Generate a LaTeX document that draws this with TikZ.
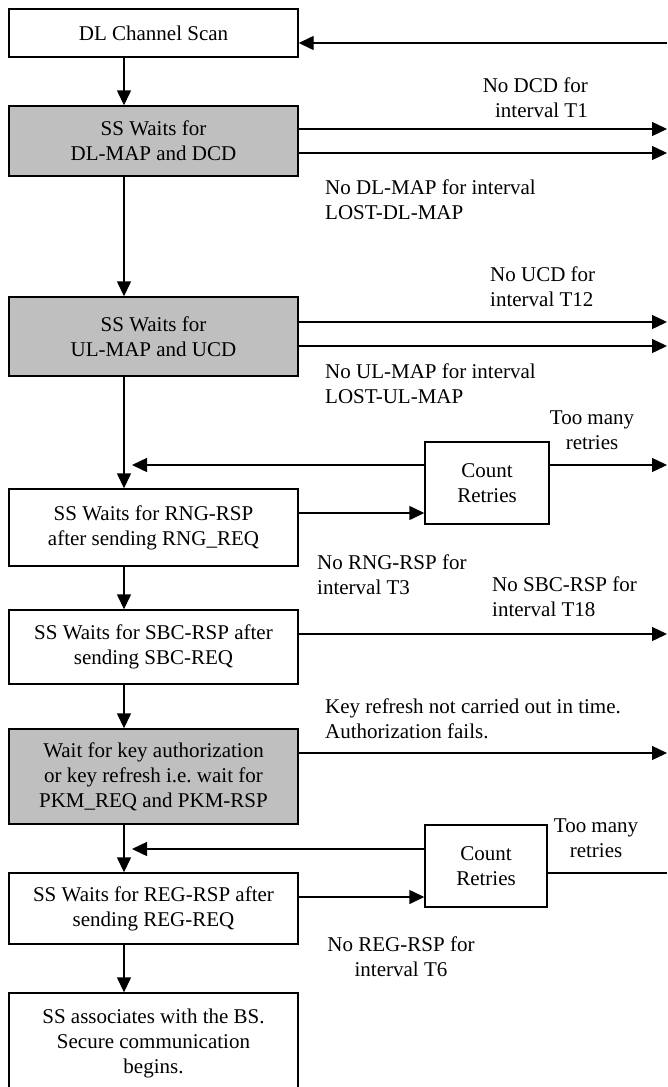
\documentclass[tikz,border=0pt]{standalone}
\usepackage{fontspec}
\setmainfont{Liberation Serif}
\usetikzlibrary{arrows.meta}
\begin{document}
\begin{tikzpicture}[x=1pt,y=-1pt,
  every node/.style={font=\fontsize{21}{25}\selectfont, inner sep=0pt, align=center},
  box/.style={draw, line width=1.4pt, minimum width=289pt},
  greybox/.style={box, fill=black!25},
  cnt/.style={draw, line width=1.4pt, minimum width=124pt, minimum height=82pt},
  arr/.style={line width=1.4pt, -{Triangle[length=15pt,width=14pt]}},
  ln/.style={line width=1.4pt},
  lbl/.style={align=left, anchor=west}]
\useasboundingbox (0,0) rectangle (667,1087);
\clip (0,0) rectangle (667,1087);
% boxes
\node[box, minimum height=48pt] (b1) at (153.5,33) {DL Channel Scan};
\node[greybox, minimum height=70pt] (b2) at (153.5,141) {SS Waits for\\DL-MAP and DCD};
\node[greybox, minimum height=79pt] (b3) at (153.5,336.5) {SS Waits for\\UL-MAP and UCD};
\node[box, minimum height=77pt] (b4) at (153.5,527.5) {SS Waits for RNG-RSP\\after sending RNG\_REQ};
\node[box, minimum height=74pt] (b5) at (153.5,647) {SS Waits for SBC-RSP after\\sending SBC-REQ};
\node[greybox, minimum height=95pt] (b6) at (153.5,776.5) {Wait for key authorization\\or key refresh i.e.\ wait for\\PKM\_REQ and PKM-RSP};
\node[box, minimum height=71pt] (b7) at (153.5,908.5) {SS Waits for REG-RSP after\\sending REG-REQ};
\node[box, minimum height=100pt] (b8) at (153.5,1043) {SS associates with the BS.\\Secure communication\\begins.};
\node[cnt] (c1) at (487,483) {Count\\Retries};
\node[cnt, minimum width=122pt] (c2) at (486,866) {Count\\Retries};
% vertical flow
\coordinate (vx) at (124,0);
\foreach \a/\b in {b1/b2,b2/b3,b3/b4,b4/b5,b5/b6,b6/b7,b7/b8}
  \draw[arr] (vx |- \a.south) -- (vx |- \b.north);
% right-side connectors
\coordinate (r1) at (667,43);
\coordinate (r2a) at (667,129);
\coordinate (r2b) at (667,153);
\coordinate (r3a) at (667,322);
\coordinate (r3b) at (667,346);
\coordinate (r4) at (667,465);
\coordinate (r5) at (667,634);
\coordinate (r6) at (667,753);
\coordinate (r7) at (667,873);
\coordinate (k1) at (132,465);
\coordinate (k2) at (132,849);
\coordinate (q1) at (0,513);
\coordinate (q2) at (0,897);
\draw[arr] (r1) -- (r1 -| b1.east);
\draw[arr] (r2a -| b2.east) -- (r2a);
\draw[arr] (r2b -| b2.east) -- (r2b);
\draw[arr] (r3a -| b3.east) -- (r3a);
\draw[arr] (r3b -| b3.east) -- (r3b);
\draw[arr] (k1 -| c1.west) -- (k1);
\draw[arr] (r4 -| c1.east) -- (r4);
\draw[arr] (q1 -| b4.east) -- (q1 -| c1.west);
\draw[arr] (r5 -| b5.east) -- (r5);
\draw[arr] (r6 -| b6.east) -- (r6);
\draw[arr] (k2 -| c2.west) -- (k2);
\draw[ln] (r7 -| c2.east) -- (r7);
\draw[arr] (q2 -| b7.east) -- (q2 -| c2.west);
% labels
\node[anchor=east, align=right] (l1) at (588,97.5) {No DCD for\\interval T1};
\node[lbl] (l2) at (325,200) {No DL-MAP for interval\\LOST-DL-MAP};
\node[lbl] (l3) at (490,286.5) {No UCD for\\interval T12};
\node[lbl] (l4) at (325,383.5) {No UL-MAP for interval\\LOST-UL-MAP};
\node (l5) at (592,430.5) {Too many\\retries};
\node[lbl] (l6) at (317,574.5) {No RNG-RSP for\\interval T3};
\node[lbl] (l7) at (492,597) {No SBC-RSP for\\interval T18};
\node[lbl] (l8) at (325,719) {Key refresh not carried out in time.\\Authorization fails.};
\node (l9) at (596,838) {Too many\\retries};
\node (l10) at (401,957) {No REG-RSP for\\interval T6};
\end{tikzpicture}
\end{document}
